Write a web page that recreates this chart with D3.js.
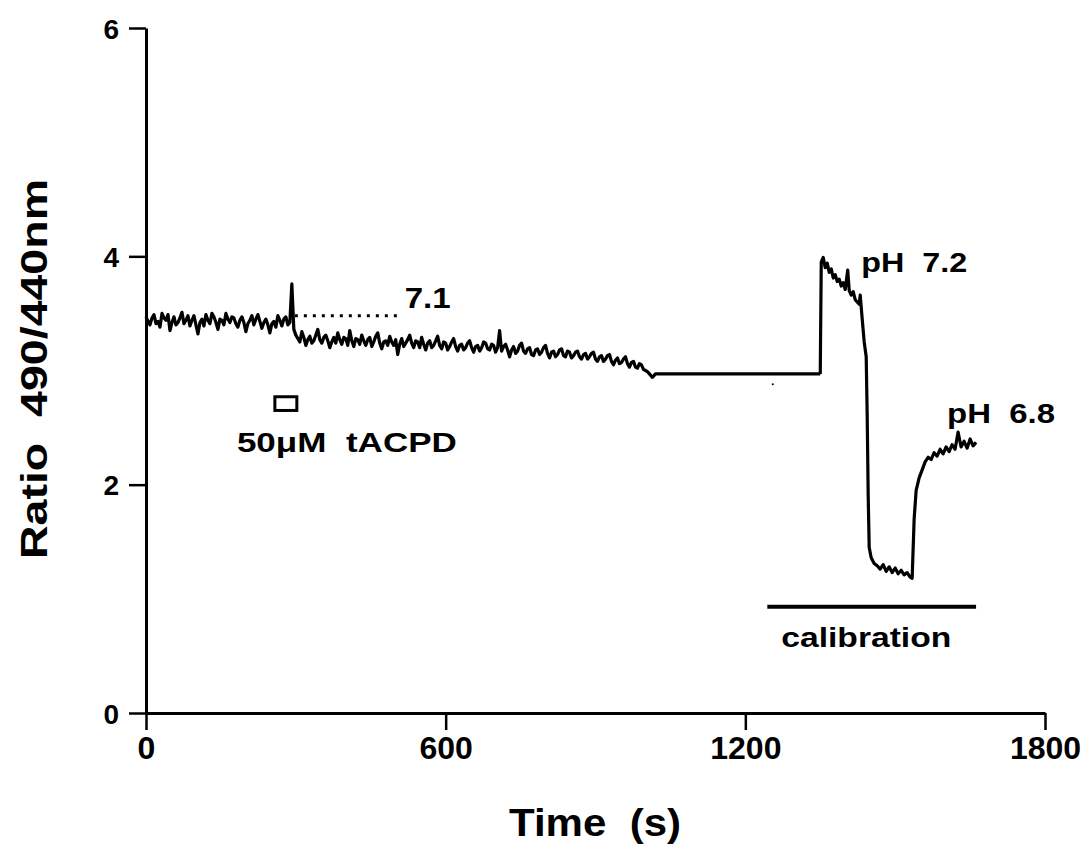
<!DOCTYPE html>
<html>
<head>
    <meta charset="utf-8">
    <title>Ratio 490/440nm trace</title>
    <script src="https://unpkg.com/d3@7.8.2/dist/d3.min.js"></script>
    <style>
        body { margin: 0; background: #fff; }
        text { font-family: "Liberation Sans", Arial, sans-serif; font-weight: bold; fill: #000; white-space: pre; }
    </style>
</head>
<body>
    <div id="chart"></div>

    <script>
        // baseline recording before the gap: [time (s), ratio]
        const restTrace = [
            [0, 3.47], [4, 3.43], [8, 3.40], [12, 3.46], [16, 3.49], [20, 3.41], [24, 3.43], [28, 3.38],
            [32, 3.50], [36, 3.46], [40, 3.44], [44, 3.49], [48, 3.35], [52, 3.42], [56, 3.47], [60, 3.40],
            [64, 3.42], [68, 3.46], [72, 3.51], [76, 3.41], [80, 3.44], [84, 3.48], [88, 3.39], [92, 3.44],
            [96, 3.48], [100, 3.40], [104, 3.32], [108, 3.42], [112, 3.45], [116, 3.39], [120, 3.49], [124, 3.44],
            [128, 3.41], [132, 3.50], [136, 3.47], [140, 3.42], [144, 3.36], [148, 3.45], [152, 3.44], [156, 3.40],
            [160, 3.50], [164, 3.45], [168, 3.42], [172, 3.47], [176, 3.46], [180, 3.41], [184, 3.38], [188, 3.44],
            [192, 3.47], [196, 3.42], [200, 3.34], [204, 3.41], [208, 3.44], [212, 3.48], [216, 3.40], [220, 3.45],
            [224, 3.49], [228, 3.43], [232, 3.37], [236, 3.42], [240, 3.45], [244, 3.40], [248, 3.33], [252, 3.41],
            [256, 3.43], [260, 3.38], [264, 3.48], [268, 3.44], [272, 3.39], [276, 3.45], [280, 3.47], [284, 3.40],
            [288, 3.42], [292, 3.76], [296, 3.36],
            [300, 3.31], [304, 3.28], [308, 3.25], [312, 3.34], [316, 3.29], [320, 3.22], [324, 3.27], [328, 3.30],
            [332, 3.24], [336, 3.26], [340, 3.31], [344, 3.36], [348, 3.27], [352, 3.24], [356, 3.29], [360, 3.31],
            [364, 3.26], [368, 3.20], [372, 3.25], [376, 3.29], [380, 3.24], [384, 3.33], [388, 3.27], [392, 3.23],
            [396, 3.29], [400, 3.28], [404, 3.22], [408, 3.35], [412, 3.26], [416, 3.21], [420, 3.28], [424, 3.27],
            [428, 3.23], [432, 3.31], [436, 3.26], [440, 3.22], [444, 3.27], [448, 3.29], [452, 3.21], [456, 3.25],
            [460, 3.30], [464, 3.33], [468, 3.24], [472, 3.19], [476, 3.25], [480, 3.26], [484, 3.22], [488, 3.30],
            [492, 3.25], [496, 3.22], [500, 3.27], [504, 3.14], [508, 3.23], [512, 3.28], [516, 3.21], [520, 3.24],
            [524, 3.27], [528, 3.31], [532, 3.24], [536, 3.20], [540, 3.26], [544, 3.25], [548, 3.20], [552, 3.29],
            [556, 3.23], [560, 3.18], [564, 3.24], [568, 3.26], [572, 3.20], [576, 3.22], [580, 3.26], [584, 3.30],
            [588, 3.22], [592, 3.19], [596, 3.25], [600, 3.24], [604, 3.18], [608, 3.21], [612, 3.25], [616, 3.28],
            [620, 3.21], [624, 3.17], [628, 3.22], [632, 3.23], [636, 3.18], [640, 3.20], [644, 3.24], [648, 3.26],
            [652, 3.20], [656, 3.16], [660, 3.21], [664, 3.22], [668, 3.17], [672, 3.20], [676, 3.25], [680, 3.24],
            [684, 3.19], [688, 3.18], [692, 3.23], [696, 3.22], [700, 3.16], [704, 3.20], [708, 3.35], [712, 3.17],
            [716, 3.21], [720, 3.23], [724, 3.18], [728, 3.12], [732, 3.18], [736, 3.21], [740, 3.15], [744, 3.17],
            [748, 3.22], [752, 3.24], [756, 3.17], [760, 3.15], [764, 3.19], [768, 3.20], [772, 3.14], [776, 3.13],
            [780, 3.18], [784, 3.19], [788, 3.14], [792, 3.16], [796, 3.20], [800, 3.22], [804, 3.15], [808, 3.11],
            [812, 3.16], [816, 3.17], [820, 3.12], [824, 3.14], [828, 3.18], [832, 3.19], [836, 3.13], [840, 3.12],
            [844, 3.17], [848, 3.16], [852, 3.11], [856, 3.13], [860, 3.16], [864, 3.17], [868, 3.12], [872, 3.10],
            [876, 3.14], [880, 3.15], [884, 3.10], [888, 3.12], [892, 3.15], [896, 3.16], [900, 3.10], [904, 3.08],
            [908, 3.12], [912, 3.13], [916, 3.08], [920, 3.10], [924, 3.13], [928, 3.14], [932, 3.08], [936, 3.05],
            [940, 3.09], [944, 3.11], [948, 3.06], [952, 3.07], [956, 3.10], [960, 3.12], [964, 3.06], [968, 3.03],
            [972, 3.07], [976, 3.08], [980, 3.03], [984, 3.02], [988, 3.06], [992, 3.05], [996, 3.01], [1000, 3.00],
            [1004, 2.99], [1008, 2.97], [1014, 2.94], [1020, 2.97], [1350, 2.97]
        ];

        // calibration part: pH 7.2 then pH 6.8
        const calibTrace = [
            [1350, 2.97], [1352, 3.95], [1356, 3.99], [1360, 3.90], [1364, 3.94], [1368, 3.86], [1372, 3.89],
            [1376, 3.81], [1380, 3.84], [1384, 3.78], [1388, 3.80], [1392, 3.74], [1396, 3.77], [1400, 3.71],
            [1405, 3.88], [1408, 3.70], [1412, 3.66], [1416, 3.69], [1420, 3.62], [1424, 3.60], [1428, 3.58],
            [1430, 3.66], [1434, 3.45], [1438, 3.25], [1442, 3.12], [1444, 2.60], [1446, 1.90], [1448, 1.45],
            [1452, 1.36], [1458, 1.31], [1464, 1.29], [1470, 1.26], [1476, 1.30], [1482, 1.24], [1488, 1.28],
            [1494, 1.23], [1500, 1.27], [1506, 1.22], [1512, 1.25], [1518, 1.21], [1524, 1.23], [1530, 1.19],
            [1534, 1.18], [1538, 1.70], [1542, 1.95], [1548, 2.06], [1554, 2.13], [1560, 2.20], [1566, 2.24],
            [1572, 2.22], [1578, 2.28], [1584, 2.25], [1590, 2.31], [1596, 2.27], [1602, 2.33], [1608, 2.29],
            [1614, 2.35], [1620, 2.31], [1626, 2.46], [1632, 2.33], [1638, 2.38], [1644, 2.32], [1650, 2.40],
            [1656, 2.34], [1662, 2.37]
        ];

        const xTicks = [0, 600, 1200, 1800];
        const yTicks = [0, 2, 4, 6];

        // annotations in data units
        const dottedRef = [[298, 3.48], [508, 3.48]];
        const drugBox = { t0: 258, t1: 302, y0: 2.65, y1: 2.77 };
        const calibBar = [1244, 1662, 0.93];
        const labels = [
            { text: "7.1", t: 518, y: 3.55, size: 30, len: 46 },
            { text: "50\u03bcM  tACPD", t: 182, y: 2.29, size: 28, len: 220 },
            { text: "pH  7.2", t: 1432, y: 3.86, size: 28, len: 106 },
            { text: "pH  6.8", t: 1604, y: 2.54, size: 28, len: 108 },
            { text: "calibration", t: 1272, y: 0.58, size: 27, len: 170 }
        ];

        const W = 1092, H = 861;
        const margin = { top: 28, right: 47, bottom: 148, left: 146 };
        const width = W - margin.left - margin.right;
        const height = H - margin.top - margin.bottom;

        const svg = d3.select("#chart")
            .append("svg")
            .attr("width", W)
            .attr("height", H);

        svg.append("rect").attr("width", W).attr("height", H).attr("fill", "#fff");

        const g = svg.append("g")
            .attr("transform", "translate(" + margin.left + "," + margin.top + ")");

        const x = d3.scaleLinear().domain([0, 1800]).range([0, width]);
        const y = d3.scaleLinear().domain([0, 6]).range([height, 0]);

        // axes
        const xAxis = g.append("g")
            .attr("transform", "translate(0," + height + ")")
            .call(d3.axisBottom(x).tickValues(xTicks).tickFormat(d3.format("d"))
                .tickSize(17).tickSizeOuter(0).tickPadding(6));
        const yAxis = g.append("g")
            .call(d3.axisLeft(y).tickValues(yTicks).tickFormat(d3.format("d"))
                .tickSize(17).tickSizeOuter(0).tickPadding(10));

        [xAxis, yAxis].forEach(a => {
            a.select(".domain").attr("stroke", "#000").attr("stroke-width", 3);
            a.selectAll(".tick line").attr("stroke", "#000").attr("stroke-width", 2.5);
            a.selectAll("text").attr("fill", "#000").style("font-family", "'Liberation Sans', Arial, sans-serif")
                .style("font-weight", "bold");
        });
        xAxis.selectAll("text").style("font-size", "32px");
        yAxis.selectAll("text").style("font-size", "28px").attr("dy", "0.36em");

        // axis titles
        svg.append("text")
            .attr("x", 595).attr("y", 836)
            .attr("text-anchor", "middle")
            .attr("textLength", 172).attr("lengthAdjust", "spacingAndGlyphs")
            .style("font-size", "38px")
            .text("Time  (s)");

        svg.append("text")
            .attr("transform", "translate(47,369) rotate(-90)")
            .attr("text-anchor", "middle")
            .attr("textLength", 380).attr("lengthAdjust", "spacingAndGlyphs")
            .style("font-size", "37px")
            .text("Ratio  490/440nm");

        // trace
        const line = d3.line().x(d => x(d[0])).y(d => y(d[1]));

        [restTrace, calibTrace].forEach(seg => {
            g.append("path")
                .datum(seg)
                .attr("d", line)
                .attr("fill", "none")
                .attr("stroke", "#000")
                .attr("stroke-width", 3.2)
                .attr("stroke-linejoin", "round");
        });

        // dotted reference line for pH 7.1
        g.append("path")
            .datum(dottedRef)
            .attr("d", line)
            .attr("stroke", "#000")
            .attr("stroke-width", 3)
            .attr("stroke-dasharray", "3,6");

        // drug application box
        g.append("rect")
            .attr("x", x(drugBox.t0))
            .attr("y", y(drugBox.y1))
            .attr("width", x(drugBox.t1) - x(drugBox.t0))
            .attr("height", y(drugBox.y0) - y(drugBox.y1))
            .attr("fill", "none")
            .attr("stroke", "#000")
            .attr("stroke-width", 3);

        // calibration bar
        g.append("line")
            .attr("x1", x(calibBar[0])).attr("x2", x(calibBar[1]))
            .attr("y1", y(calibBar[2])).attr("y2", y(calibBar[2]))
            .attr("stroke", "#000")
            .attr("stroke-width", 4);

        // stray speck in the original
        g.append("circle")
            .attr("cx", x(1255)).attr("cy", y(2.88)).attr("r", 1).attr("fill", "#000");

        g.selectAll(".note")
            .data(labels)
            .enter()
            .append("text")
            .attr("class", "note")
            .attr("x", d => x(d.t))
            .attr("y", d => y(d.y))
            .attr("textLength", d => d.len)
            .attr("lengthAdjust", "spacingAndGlyphs")
            .style("font-size", d => d.size + "px")
            .text(d => d.text);
    </script>
</body>
</html>
